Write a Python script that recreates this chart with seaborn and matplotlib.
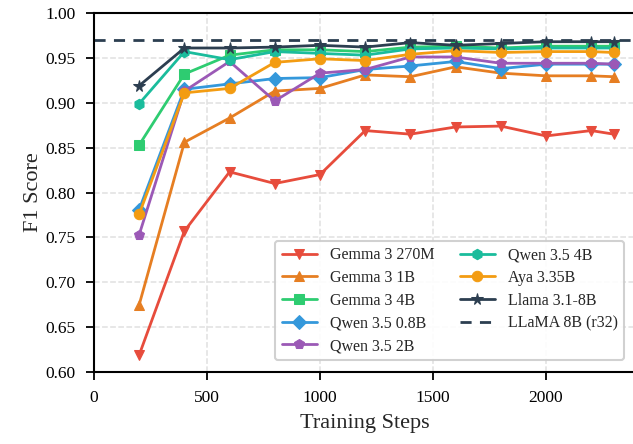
import pandas as pd
import seaborn as sns
import matplotlib.pyplot as plt

# Data
steps = [200, 400, 600, 800, 1000, 1200, 1400, 1600, 1800, 2000, 2200, 2300]

gemma_270m = [0.619, 0.757, 0.823, 0.810, 0.820, 0.869, 0.865, 0.873, 0.874, 0.863, 0.869, 0.865]
gemma_1b = [0.675, 0.856, 0.883, 0.913, 0.916, 0.931, 0.929, 0.940, 0.933, 0.930, 0.930, 0.929]
gemma_4b = [0.853, 0.932, 0.953, 0.959, 0.959, 0.957, 0.962, 0.963, 0.961, 0.963, 0.963, 0.963]
qwen_08b = [0.781, 0.915, 0.921, 0.927, 0.928, 0.937, 0.941, 0.946, 0.938, 0.943, 0.943, 0.943]
qwen_2b = [0.753, 0.913, 0.946, 0.902, 0.933, 0.937, 0.951, 0.951, 0.944, 0.944, 0.944, 0.943]
qwen_4b = [0.899, 0.957, 0.948, 0.957, 0.955, 0.953, 0.960, 0.961, 0.960, 0.961, 0.961, 0.961]
aya = [0.776, 0.911, 0.916, 0.945, 0.949, 0.947, 0.954, 0.958, 0.956, 0.957, 0.957, 0.956]
llama = [0.919, 0.961, 0.961, 0.962, 0.964, 0.962, 0.967, 0.964, 0.966, 0.968, 0.968, 0.968]
llama_r32 = 0.970

series = [
    ('Gemma 3 270M', gemma_270m, '#e74c3c', 'v'),
    ('Gemma 3 1B', gemma_1b, '#e67e22', '^'),
    ('Gemma 3 4B', gemma_4b, '#2ecc71', 's'),
    ('Qwen 3.5 0.8B', qwen_08b, '#3498db', 'D'),
    ('Qwen 3.5 2B', qwen_2b, '#9b59b6', 'p'),
    ('Qwen 3.5 4B', qwen_4b, '#1abc9c', 'h'),
    ('Aya 3.35B', aya, '#f39c12', 'o'),
    ('Llama 3.1-8B', llama, '#2c3e50', '*'),
]

sns.set_theme(style='ticks')
plt.rcParams['font.family'] = ['Liberation Serif', 'DejaVu Serif']
plt.rcParams['mathtext.fontset'] = 'stix'

fig = plt.figure(figsize=(6.33, 4.44), dpi=100)
ax = fig.add_axes([94 / 633, (444 - 372) / 444, 542.4 / 633, 359 / 444])

for name, vals, color, marker in series:
    df = pd.DataFrame({'step': steps, 'f1': vals})
    sns.lineplot(data=df, x='step', y='f1', color=color, marker=marker,
                 markersize=7.5 if marker != '*' else 8.5, linewidth=2.0,
                 markeredgecolor=color, label=name, ax=ax)

ax.axhline(llama_r32, color='#2c3e50', linestyle='--', linewidth=2.0,
           dashes=(4, 3), label='LLaMA 8B (r32)')

ax.set_xlim(0, 2400)
ax.set_ylim(0.60, 1.00)
ax.set_xticks([0, 500, 1000, 1500, 2000])
ax.set_yticks([0.60, 0.65, 0.70, 0.75, 0.80, 0.85, 0.90, 0.95, 1.00])
ax.yaxis.set_major_formatter(plt.FormatStrFormatter('%.2f'))
ax.grid(True, linestyle='--', color='#e0e0e0', linewidth=1.1)
ax.set_axisbelow(True)

for s in ax.spines.values():
    s.set_linewidth(1.5)
    s.set_color('black')
ax.tick_params(axis='both', direction='out', length=6, width=1.3,
               labelsize=12.5, colors='black', pad=7)

ax.set_xlabel('Training Steps', fontsize=16, labelpad=6)
ax.set_ylabel('F1 Score', fontsize=16, labelpad=2)

leg = ax.legend(loc='lower right', ncol=2, fontsize=11.5, frameon=True,
                fancybox=True, framealpha=0.9, edgecolor='#cccccc',
                handlelength=2.2, columnspacing=1.6, labelspacing=0.42,
                bbox_to_anchor=(0.992, 0.01))
leg.get_frame().set_linewidth(1.5)

fig.savefig('out.png', dpi=100)
